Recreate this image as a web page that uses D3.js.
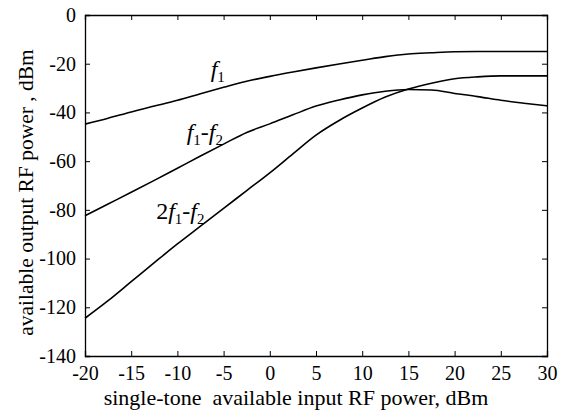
<!DOCTYPE html>
<html>
<head>
<meta charset="utf-8">
<script src="https://cdn.jsdelivr.net/npm/d3@7/dist/d3.min.js"></script>
<style>
  body { margin: 0; background: #fff; }
  svg text { font-family: "Liberation Serif", "Times New Roman", serif; fill: #000; }
</style>
</head>
<body>
<svg width="565" height="417"></svg>
<script>
// input power, dBm
var inputPower = [-20, -17.5, -15, -12.5, -10, -7.5, -5, -2.5, 0, 2.5, 5, 7.5, 10,
                  12.5, 15, 17.5, 20, 22.5, 25, 27.5, 30];
// output power of each product, dBm
var fundamental = [-44.8, -42.4, -39.8, -37.4, -35.0, -32.3, -29.7, -27.2, -25.2, -23.4, -21.7,
                   -20.1, -18.6, -17.1, -16.0, -15.5, -15.1, -15.0, -15.0, -15.0, -15.0];
var diffProduct = [-82.4, -77.6, -72.8, -67.9, -62.9, -57.9, -53.0, -48.2, -44.7, -41.0, -37.4,
                   -34.9, -32.8, -31.3, -30.6, -30.8, -32.2, -33.5, -35.0, -36.2, -37.3];
var imProduct = [-124.5, -117.3, -109.5, -101.7, -94.0, -86.7, -79.4, -72.1, -64.8, -57.0, -49.3,
                 -43.3, -38.2, -33.7, -30.4, -28.0, -26.2, -25.4, -25.0, -25.0, -25.0];
var xTicks = [-20, -15, -10, -5, 0, 5, 10, 15, 20, 25, 30];
var yTicks = [0, -20, -40, -60, -80, -100, -120, -140];

var svg = d3.select("svg"),
  margin = {top: 15, right: 18, bottom: 61, left: 85},
  width = +svg.attr("width") - margin.left - margin.right,
  height = +svg.attr("height") - margin.top - margin.bottom,
  g = svg.append("g").attr("transform", "translate(" + margin.left + "," + margin.top + ")");

var x = d3.scaleLinear().domain([-20, 30]).range([0, width]);
var y = d3.scaleLinear().domain([-140, 0]).range([height, 0]);
var fmt = function(d) { return String(d); };

// axes with inward ticks on all four sides
var axes = [
  {axis: d3.axisBottom(x).tickValues(xTicks).tickFormat(fmt).tickSize(-5).tickPadding(10), t: "translate(0," + height + ")"},
  {axis: d3.axisTop(x).tickValues(xTicks).tickFormat("").tickSize(-5), t: "translate(0,0)"},
  {axis: d3.axisLeft(y).tickValues(yTicks).tickFormat(fmt).tickSize(-5).tickPadding(9), t: "translate(0,0)"},
  {axis: d3.axisRight(y).tickValues(yTicks).tickFormat("").tickSize(-5), t: "translate(" + width + ",0)"}
];
axes.forEach(function(a) {
  var ag = g.append("g").attr("transform", a.t).call(a.axis);
  ag.select(".domain").attr("stroke", "#000").attr("stroke-width", 1.3);
  ag.selectAll(".tick line").attr("stroke", "#000");
  ag.selectAll("text")
    .style("font-family", "'Liberation Serif', serif")
    .style("font-size", "20px")
    .attr("fill", "#000");
});

var line = d3.line()
  .x(function(d) { return x(d[0]); })
  .y(function(d) { return y(d[1]); })
  .curve(d3.curveMonotoneX);

[fundamental, diffProduct, imProduct].forEach(function(s) {
  g.append("path")
    .datum(d3.zip(inputPower, s))
    .attr("fill", "none")
    .attr("stroke", "#000")
    .attr("stroke-width", 1.6)
    .attr("d", line);
});

// curve labels
function label(px, py, parts) {
  var t = g.append("text")
    .attr("x", x(px)).attr("y", y(py))
    .style("font-size", "24px");
  parts.forEach(function(p) {
    var ts = t.append("tspan").text(p.s);
    if (p.i) ts.style("font-style", "italic");
    if (p.sub) ts.style("font-size", "15px").attr("dy", 5);
    if (p.up) ts.attr("dy", -5);
  });
}
label(-6.4, -25.3, [{s: "f", i: true}, {s: "1", sub: true}]);
label(-9.0, -51.5, [{s: "f", i: true}, {s: "1", sub: true}, {s: "-", up: true}, {s: "f", i: true}, {s: "2", sub: true}]);
label(-12.3, -83.6, [{s: "2"}, {s: "f", i: true}, {s: "1", sub: true}, {s: "-", up: true}, {s: "f", i: true}, {s: "2", sub: true}]);

// axis titles
svg.append("text")
  .attr("x", 296)
  .attr("y", 405)
  .attr("text-anchor", "middle")
  .style("font-size", "22px")
  .text("single-tone\u00a0 available input RF power, dBm");

svg.append("text")
  .attr("transform", "translate(33," + (margin.top + height / 2 + 7) + ") rotate(-90)")
  .attr("text-anchor", "middle")
  .style("font-size", "21.5px")
  .text("available output RF power , dBm");
</script>
</body>
</html>
